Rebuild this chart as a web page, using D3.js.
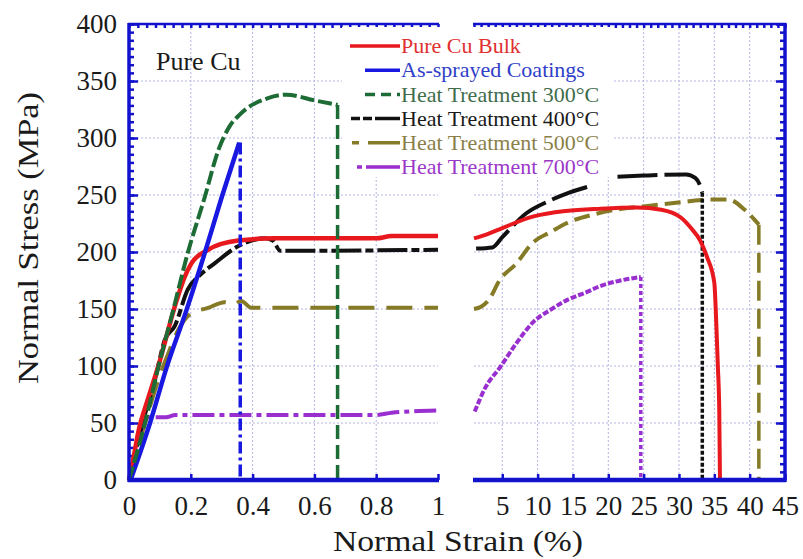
<!DOCTYPE html>
<html><head><meta charset="utf-8">
<script src="https://cdn.jsdelivr.net/npm/d3@7"></script>
<style>body{margin:0;background:#fff}svg{display:block}</style>
</head><body><svg id="c" width="803" height="559"></svg>
<script>
// ---------- data ----------
const yTicks = [0, 50, 100, 150, 200, 250, 300, 350, 400];
const xTicksLeft = [0, 0.2, 0.4, 0.6, 0.8, 1];
const xTickLabelsLeft = ["0", "0.2", "0.4", "0.6", "0.8", "1"];
const xTicksRight = [5, 10, 15, 20, 25, 30, 35, 40, 45];
const seriesNames = ["Pure Cu Bulk", "As-sprayed Coatings", "Heat Treatment 300°C",
  "Heat Treatment 400°C", "Heat Treatment 500°C", "Heat Treatment 700°C"];
const seriesColors = ["#e8191e", "#1818e0", "#1d6b35", "#111111", "#857a26", "#9a2fd0"];
const legendTextColors = ["#e03030", "#3040c8", "#3f6d4c", "#1a1a1a", "#8a7f48", "#9b38c8"];

// [strain %, stress MPa] — left panel 0–1 %, right panel 1–45 %
const bulkLeft = [[0,0],[0.015,20],[0.03,42],[0.06,70],[0.095,100],[0.148,152],[0.18,178],[0.202,190],[0.256,202],[0.353,210],[0.47,212],[0.8,212],[0.85,214],[1,214]];
const bulkRight = [[1,212],[3,216],[5,221],[9.3,231],[14,236],[18.9,238],[24,239],[27.5,237],[30.3,230],[31.7,221],[33,210],[34,195],[35,173],[35.3,134],[35.5,100],[35.7,61],[35.8,0]];
const sprayedLeft = [[0.005,0],[0.068,50],[0.122,99],[0.186,149],[0.245,199],[0.30,248],[0.357,296]];
const ht300Left = [[0,0],[0.052,50],[0.095,99],[0.143,149],[0.19,199],[0.245,248],[0.29,290],[0.325,310],[0.36,321],[0.45,335],[0.51,338],[0.6,333],[0.675,329]];
const ht400Left = [[0,0],[0.041,47],[0.084,88],[0.116,123],[0.148,135],[0.19,167],[0.235,181],[0.277,190],[0.353,205],[0.44,212],[0.465,210],[0.49,201],[1,202]];
const ht400Right = [[1.3,203],[3.6,204],[5,213],[8.4,234],[11.7,245],[14,251],[17,257],null,[21.3,266],[25,267],[31,268],[32.3,265],[33,258],[33.3,252]];
const ht500Left = [[0,0],[0.052,50],[0.095,88],[0.127,111],[0.16,132],[0.2,146],[0.256,151],[0.31,156],[0.34,154],[0.363,157],[0.396,151],[1,151]];
const ht500Right = [[1,150],[2,152],[3.1,158],[4.6,175],[7,190],[9.3,208],[12,218],[14,225],[18,233],[21,237],[25,240],[30.7,244],[34,246],[37,246],[39.3,237],[41.3,224]];
const ht700Left = [[0,0],[0.01,10],[0.03,35],[0.062,55],[0.12,55],[0.15,57],[0.8,57],[0.85,59],[1,61]];
const ht700Right = [[1.1,60],[2.6,81],[4.7,99],[7,120],[9.3,138],[12,150],[14.2,158],[17,165],[18.8,170],[21,174],[23.5,177],[24.6,178]];

const seriesLeft = [bulkLeft, sprayedLeft, ht300Left, ht400Left, ht500Left, ht700Left];
const seriesRight = [bulkRight, [], [], ht400Right, ht500Right, ht700Right];
// fracture drop lines (vertical to zero)
const fracturePanel = [null, "left", "left", "right", "right", "right"];
const fractureStrain = [null, 0.36, 0.675, 33.3, 41.3, 24.6];
const fractureStress = [null, 296, 329, 252, 224, 178];

// ---------- styles ----------
const curveDash = [null, null, "14,4", "30,4,8,4", "26,12", "22,5,5,5"];
const curveDashRight = [null, null, null, "40,7", "16,7", "6,2"];
const dropDash = [null, "12,4,3,4", "14,6", "4,2", "20,8", "4,3"];
const axisBlue = "#1212cc";
const serif = "'Liberation Serif','Times New Roman',serif";

const svg = d3.select("#c");
svg.append("rect").attr("width", 803).attr("height", 559).attr("fill", "#fff");

const y = d3.scaleLinear().domain([0, 400]).range([480, 24]);
const xL = d3.scaleLinear().domain([0, 1]).range([129, 438]);
const xR = d3.scaleLinear().domain([1, 45]).range([474, 785]);

// ---------- grid ----------
const grid = svg.append("g").attr("stroke", "#b4b4e6").attr("stroke-width", 1).attr("stroke-dasharray", "2,2");
[[xL, xTicksLeft], [xR, xTicksRight]].forEach(([xs, tv]) => {
  grid.selectAll(null).data(tv.filter(v => v > xs.domain()[0] && v < xs.domain()[1]))
    .join("line").attr("x1", d => xs(d)).attr("x2", d => xs(d)).attr("y1", y(400)).attr("y2", y(0));
  grid.selectAll(null).data(yTicks.filter(v => v > 0 && v < 400))
    .join("line").attr("x1", xs.range()[0]).attr("x2", xs.range()[1]).attr("y1", d => y(d)).attr("y2", d => y(d));
});

// ---------- minor ticks ----------
const ticksG = svg.append("g");
const minorY = d3.range(0, 400.01, 50 / 7);
ticksG.append("g").attr("transform", `translate(${xL.range()[0]},0)`)
  .call(d3.axisRight(y).tickValues(minorY).tickSize(5).tickFormat(""));
ticksG.append("g").attr("transform", `translate(${xL.range()[0]},0)`)
  .call(d3.axisRight(y).tickValues(yTicks).tickSize(9).tickFormat(""));
ticksG.append("g").attr("transform", `translate(${xR.range()[1]},0)`)
  .call(d3.axisLeft(y).tickValues(minorY).tickSize(5).tickFormat(""));
ticksG.append("g").attr("transform", `translate(${xR.range()[1]},0)`)
  .call(d3.axisLeft(y).tickValues(yTicks).tickSize(9).tickFormat(""));
ticksG.append("g").attr("transform", `translate(0,${y(400)})`)
  .call(d3.axisBottom(xL).tickValues(d3.range(0, 1.001, 0.2 / 7)).tickSize(4).tickFormat(""));
ticksG.append("g").attr("transform", `translate(0,${y(400)})`)
  .call(d3.axisBottom(xR).tickValues(d3.range(1, 45.01, 1)).tickSize(4).tickFormat(""));
ticksG.append("g").attr("transform", `translate(0,${y(0)})`)
  .call(d3.axisTop(xL).tickValues(xTicksLeft).tickSize(6).tickFormat(""));
ticksG.append("g").attr("transform", `translate(0,${y(0)})`)
  .call(d3.axisTop(xR).tickValues(xTicksRight).tickSize(6).tickFormat(""));
ticksG.selectAll(".domain").remove();
ticksG.selectAll(".tick line").attr("stroke", axisBlue).attr("stroke-width", 2.5);

// ---------- legend background ----------
svg.append("rect").attr("x", 342).attr("y", 27).attr("width", 271).attr("height", 150).attr("fill", "#fff");

// ---------- data lines ----------
const dataG = svg.append("g").attr("fill", "none").attr("stroke-linejoin", "round");
const lineL = d3.line().defined(d => d).curve(d3.curveMonotoneX).x(d => xL(d[0])).y(d => y(d[1]));
const lineR = d3.line().defined(d => d).curve(d3.curveMonotoneX).x(d => xR(d[0])).y(d => y(d[1]));
const order = [4, 5, 3, 0, 1, 2];
order.forEach(i => {
  dataG.append("path").attr("d", lineL(seriesLeft[i])).attr("stroke", seriesColors[i])
    .attr("stroke-width", i === 0 || i === 1 ? 4.5 : 4).attr("stroke-dasharray", curveDash[i]);
  if (seriesRight[i].length)
    dataG.append("path").attr("d", lineR(seriesRight[i])).attr("stroke", seriesColors[i])
      .attr("stroke-width", 4).attr("stroke-dasharray", i === 0 ? null : curveDashRight[i]);
  if (fracturePanel[i]) {
    const xs = fracturePanel[i] === "left" ? xL : xR;
    dataG.append("line").attr("x1", xs(fractureStrain[i])).attr("x2", xs(fractureStrain[i]))
      .attr("y1", y(fractureStress[i])).attr("y2", y(0))
      .attr("stroke", seriesColors[i]).attr("stroke-width", 3.5).attr("stroke-dasharray", dropDash[i]);
  }
});

// ---------- axis lines ----------
const ax = svg.append("g").attr("stroke", axisBlue);
ax.append("line").attr("x1", xL.range()[0]).attr("x2", xL.range()[0]).attr("y1", y(400) - 1).attr("y2", y(0) + 2).attr("stroke-width", 3.5);
ax.append("line").attr("x1", xR.range()[1]).attr("x2", xR.range()[1]).attr("y1", y(400) - 1).attr("y2", y(0) + 2).attr("stroke-width", 3.5);
[xL, xR].forEach(xs => {
  ax.append("line").attr("x1", xs.range()[0] - 1).attr("x2", xs.range()[1] + 1).attr("y1", y(400)).attr("y2", y(400)).attr("stroke-width", 2.5);
  ax.append("line").attr("x1", xs.range()[0] - 1).attr("x2", xs.range()[1] + 1).attr("y1", y(0)).attr("y2", y(0)).attr("stroke-width", 4.5);
});

// ---------- tick labels ----------
const lab = svg.append("g");
lab.append("g").attr("transform", `translate(${xL.range()[0]},0)`)
  .call(d3.axisLeft(y).tickValues(yTicks).tickSize(0).tickPadding(12));
lab.append("g").attr("transform", `translate(0,${y(0)})`)
  .call(d3.axisBottom(xL).tickValues(xTicksLeft).tickSize(0).tickPadding(16).tickFormat((d, i) => xTickLabelsLeft[i]));
lab.append("g").attr("transform", `translate(0,${y(0)})`)
  .call(d3.axisBottom(xR).tickValues(xTicksRight).tickSize(0).tickPadding(16));
lab.selectAll(".domain").remove();
lab.selectAll("text").attr("font-family", serif).attr("font-size", 27).attr("fill", "#1a1a1a");

// ---------- axis titles ----------
svg.append("text").attr("x", 458).attr("y", 551).attr("text-anchor", "middle")
  .attr("font-family", serif).attr("font-size", 30).attr("fill", "#1a1a1a")
  .attr("textLength", 250).attr("lengthAdjust", "spacingAndGlyphs").text("Normal Strain (%)");
svg.append("text").attr("transform", "translate(38,238) rotate(-90)").attr("text-anchor", "middle")
  .attr("font-family", serif).attr("font-size", 30).attr("fill", "#1a1a1a")
  .attr("textLength", 292).attr("lengthAdjust", "spacingAndGlyphs").text("Normal Stress (MPa)");

svg.append("text").attr("x", 156).attr("y", 70).attr("font-family", serif).attr("font-size", 26)
  .attr("fill", "#1a1a1a").text("Pure Cu");

// ---------- legend ----------
const legX0 = [350, 365, 365, 351, 352, 357];
const legDash = [null, null, "10,6", "9,3,9,3,60", "7,9,40", "5,4,40"];
const leg = svg.append("g");
seriesNames.forEach((name, i) => {
  const cy = 46 + i * 24.2;
  leg.append("line").attr("x1", legX0[i]).attr("x2", 400).attr("y1", cy).attr("y2", cy)
    .attr("stroke", seriesColors[i]).attr("stroke-width", 3.5).attr("stroke-dasharray", legDash[i]);
  leg.append("text").attr("x", 401).attr("y", cy).attr("dy", "0.33em")
    .attr("font-family", serif).attr("font-size", 22).attr("fill", legendTextColors[i])
    .text(name);
});
</script></body></html>
